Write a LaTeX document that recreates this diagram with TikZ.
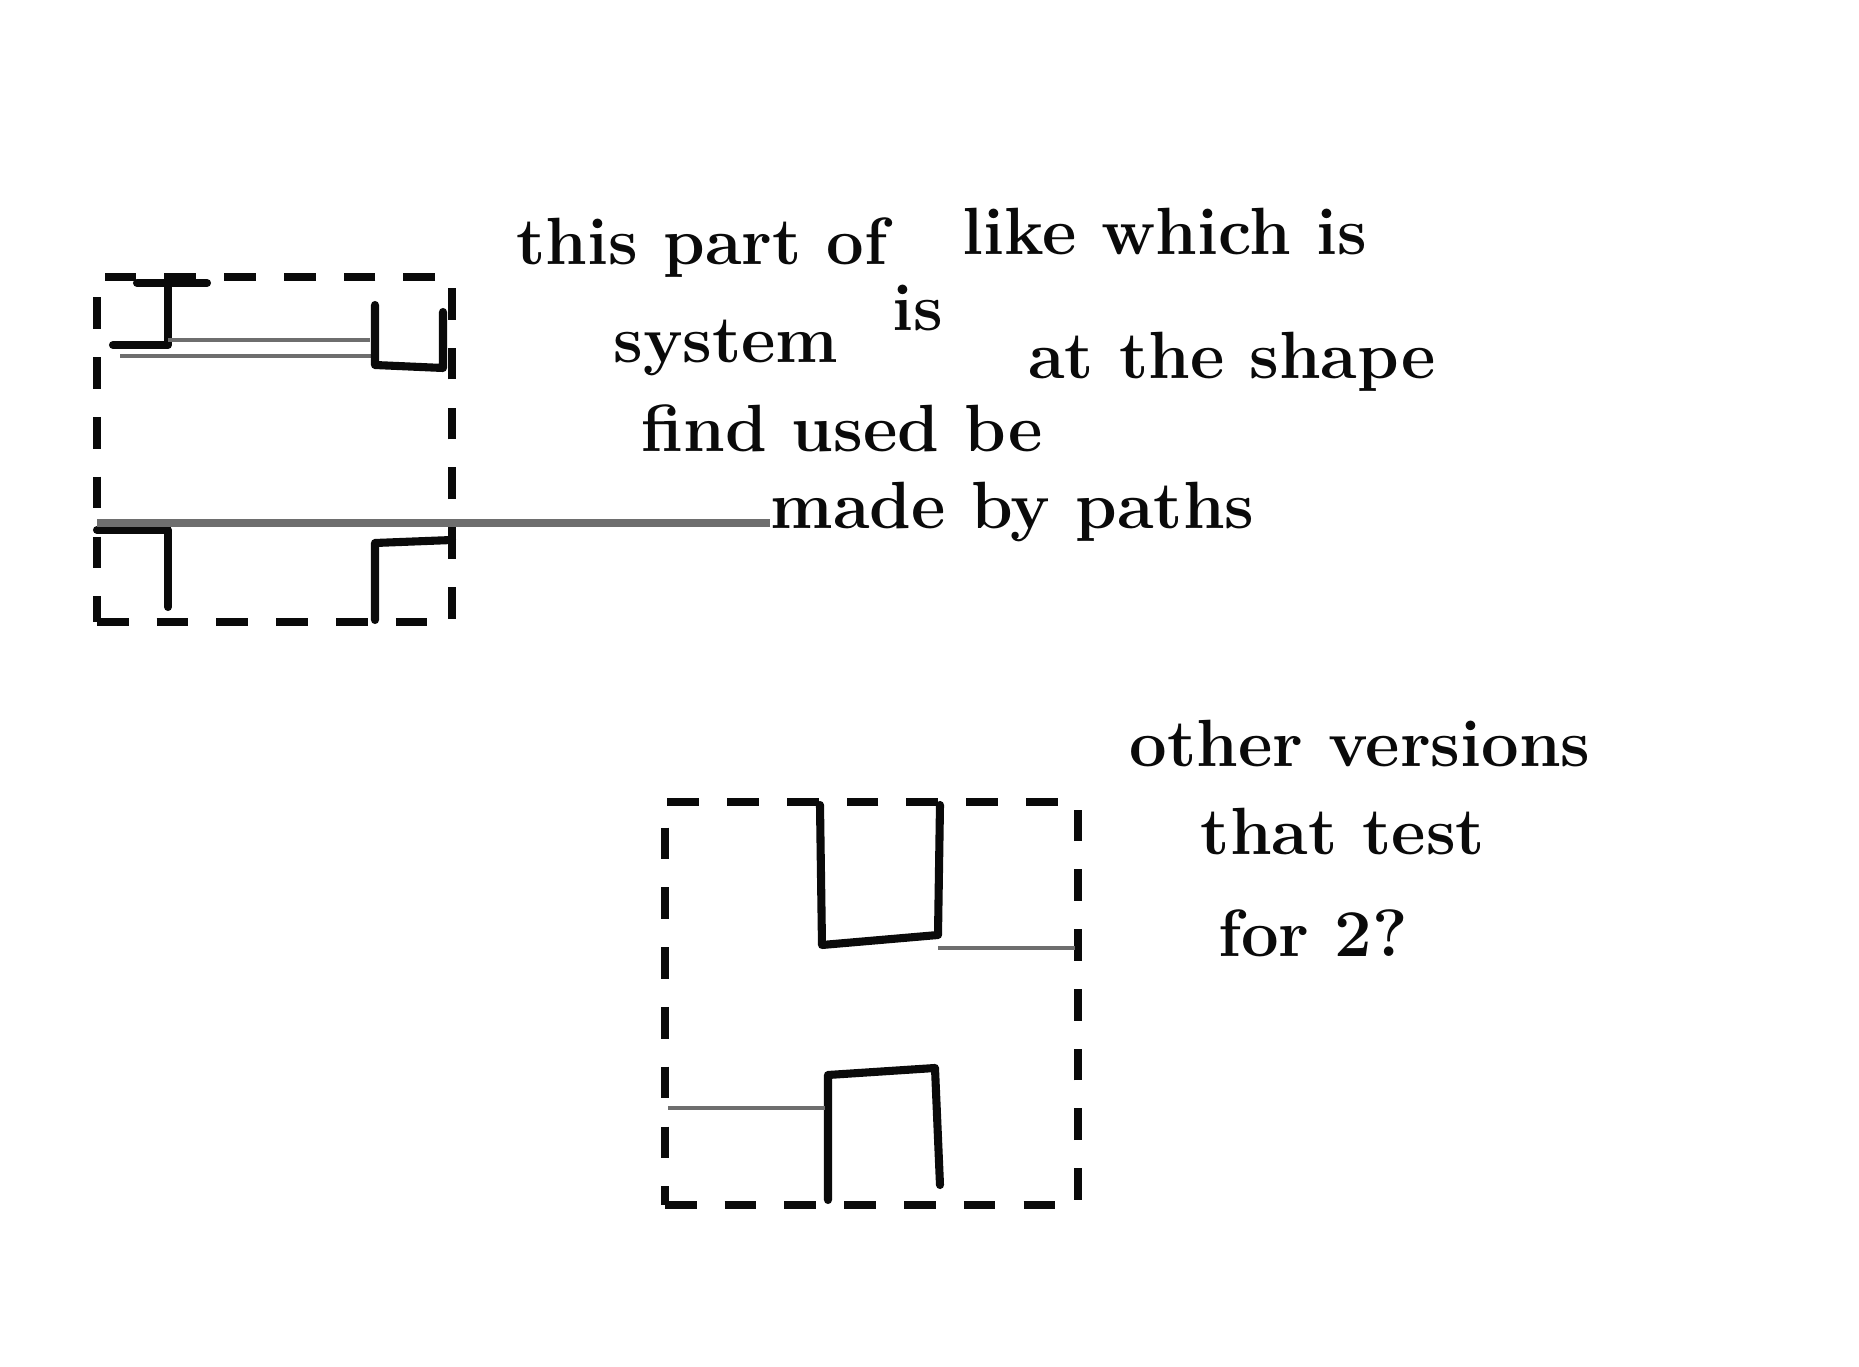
\documentclass[tikz,border=0pt]{standalone}
\usepackage{xcolor}
\usepackage{tikz}
\usetikzlibrary{positioning}
\definecolor{ink}{HTML}{0A0A0A}
\definecolor{pencil}{HTML}{6E6E6E}
\tikzset{
  sketchbox/.style={draw=ink,line width=2.2pt,dash pattern=on 9pt off 8pt,inner sep=0pt},
  stroke/.style={draw=ink,line width=2.3pt,line cap=round,line join=round},
  faint/.style={draw=pencil,line width=1.4pt},
  pointer/.style={draw=pencil,line width=2pt},
  scribble/.style={font=\fontsize{19}{23}\selectfont\bfseries,text=ink,inner sep=0pt},
}

\begin{document}
\begin{tikzpicture}[x=0.01cm,y=-0.01cm]
  \useasboundingbox (0,0) rectangle (1859,1367);

  % left wireframe
  \node[sketchbox,minimum width=3.55cm,minimum height=3.45cm] (lbox) at (274.5,449.5) {};
  \draw[stroke] (137,283) -- (207,283) (168,283) -- (168,345) -- (113,345);
  \draw[faint] (168,340) -- (370,340) (120,356) -- (375,356);
  \draw[stroke] (375,305) -- (375,365) -- (443,368) -- (443,312);
  \draw[stroke] (97,530) -- (168,530) -- (168,607);
  \draw[stroke] (375,620) -- (375,543) -- (452,540);

  % note on the left wireframe
  \node[scribble] (part) at (702,248) {this part of};
  \node[scribble] (which) at (1165,232) {like which is};
  \node[scribble] (is) at (918,308) {is};
  \node[scribble] (system) at (726,348) {system};
  \node[scribble] (shape) at (1232,362) {at the shape};
  \node[scribble] (used) at (842,428) {find used be};
  \node[scribble,anchor=west] (paths) at (770,512) {made by paths};
  \coordinate (cut) at (97,523);
  \draw[pointer] (cut) -- (cut -| paths.west);

  % lower wireframe
  \node[sketchbox,minimum width=4.13cm,minimum height=4.03cm] (bbox) at (871.5,1003.5) {};
  \draw[stroke] (820,805) -- (822,945) -- (938,935) -- (940,805);
  \draw[faint] (938,948) -- (1075,948);
  \draw[stroke] (828,1200) -- (828,1075) -- (935,1068) -- (940,1185);
  \draw[faint] (668,1108) -- (825,1108);

  % note on the lower wireframe
  \node[scribble] (versions) at (1360,744) {other versions};
  \node[scribble] (test) at (1343,832) {that test};
  \node[scribble] (fortwo) at (1313,933) {for 2?};
\end{tikzpicture}
\end{document}
